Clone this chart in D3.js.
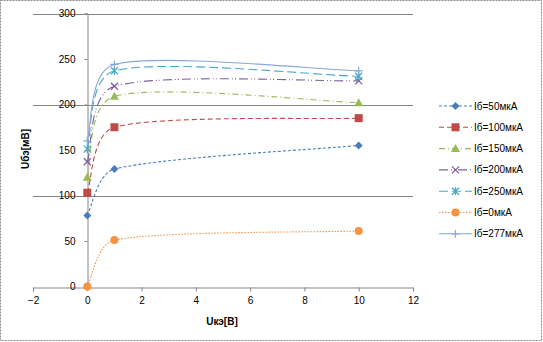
<!DOCTYPE html>
<html><head><meta charset="utf-8">
<script src="https://cdn.jsdelivr.net/npm/d3@7"></script>
<style>
body{margin:0;background:#fff;}
svg{display:block;font-family:"Liberation Sans",Arial,sans-serif;}
</style></head>
<body><svg id="c" width="543" height="342"></svg>
<script>
const xValues = [0, 1, 10];
const seriesNames = ["Iб=50мкА","Iб=100мкА","Iб=150мкА","Iб=200мкА","Iб=250мкА","Iб=0мкА","Iб=277мкА"];
const s50  = [78, 129, 155];
const s100 = [103, 175, 185];
const s150 = [120, 209, 202];
const s200 = [137, 220, 226];
const s250 = [151, 237, 231];
const s0   = [0, 51, 61];
const s277 = [160, 244, 237];
const xTicks = [-2, 0, 2, 4, 6, 8, 10, 12];
const yTicks = [0, 50, 100, 150, 200, 250, 300];
const yGrid = [100, 200, 300];

const seriesValues = [s50, s100, s150, s200, s250, s0, s277];
const colors = ["#4A7EBB","#BE4B48","#98B954","#7D60A0","#46AAC5","#F69240","#8AA6DC"];
const dashes = ["3,2","5,3","6,3,1,3","9,3,1,2,1,3","9,4","1.5,1.5",null];
const markers = ["diamond","square","triangle","x","star","circle","plus"];

const svg = d3.select("#c");
const x = d3.scaleLinear().domain([-2,12]).range([33,413]);
const y = d3.scaleLinear().domain([0,300]).range([286.5,13.5]);

// Excel-like smoothing: Catmull-Rom (1/6 chord) with control length limited by segment length
function smoothPath(pts){
  const n = pts.length;
  const tang = pts.map((p,i)=>{
    const a = pts[Math.max(0,i-1)], b = pts[Math.min(n-1,i+1)];
    return [(b[0]-a[0])/6, (b[1]-a[1])/6];
  });
  let d = `M${pts[0][0]},${pts[0][1]}`;
  for(let i=0;i<n-1;i++){
    const p0 = pts[i], p1 = pts[i+1];
    const L = Math.hypot(p1[0]-p0[0], p1[1]-p0[1]);
    const lim = L/3;
    const sc = v => { const m = Math.hypot(v[0],v[1]); return m>lim ? [v[0]*lim/m, v[1]*lim/m] : v; };
    const t0 = sc(tang[i]), t1 = sc(tang[i+1]);
    d += `C${p0[0]+t0[0]},${p0[1]+t0[1]},${p1[0]-t1[0]},${p1[1]-t1[1]},${p1[0]},${p1[1]}`;
  }
  return d;
}

// outer border
svg.append("rect").attr("x",0.5).attr("y",0.5).attr("width",541).attr("height",340)
  .attr("fill","none").attr("stroke","#8a8a8a").attr("stroke-dasharray","2,1");

// gridlines
svg.append("g").selectAll("line").data(yGrid).join("line")
  .attr("x1",x(-2)).attr("x2",x(12)).attr("y1",d=>Math.round(y(d))+0.5).attr("y2",d=>Math.round(y(d))+0.5)
  .attr("stroke","#868686").attr("stroke-width",1);

// x axis at y=0
const xAxis = d3.axisBottom(x).tickValues(xTicks).tickSize(4).tickFormat(d3.format("d"));
const gx = svg.append("g").attr("transform",`translate(0,${Math.round(y(0))+0.5})`).call(xAxis);
gx.select(".domain").attr("stroke","#868686");
gx.selectAll(".tick line").attr("stroke","#868686");
gx.selectAll("text").attr("font-size","10px").attr("fill","#000").attr("dy","0.95em")
  .attr("font-family","Liberation Sans, Arial, sans-serif");

// y axis at x=0
const yAxis = d3.axisLeft(y).tickValues(yTicks).tickSize(3).tickFormat(d3.format("d"));
const gy = svg.append("g").attr("transform",`translate(${Math.round(x(0))+0.5},0)`).call(yAxis);
gy.select(".domain").attr("stroke","#868686");
gy.selectAll(".tick line").attr("stroke","#868686");
gy.selectAll("text").attr("font-size","10px").attr("fill","#000").attr("x",-12)
  .attr("font-family","Liberation Sans, Arial, sans-serif");

// axis titles
svg.append("text").attr("x",222).attr("y",325).attr("text-anchor","middle")
  .attr("font-size","10px").attr("font-weight","bold").text("Uкэ[В]");
svg.append("text").attr("transform","translate(29,149) rotate(-90)").attr("text-anchor","middle")
  .attr("font-size","10px").attr("font-weight","bold").text("Uбэ[мВ]");

function drawMarker(g, type, cx, cy, color){
  const s = 3.5;
  if(type==="diamond"){
    g.append("path").attr("d",`M${cx},${cy-s-0.5}L${cx+s+0.5},${cy}L${cx},${cy+s+0.5}L${cx-s-0.5},${cy}Z`).attr("fill",color);
  } else if(type==="square"){
    g.append("rect").attr("x",cx-4).attr("y",cy-4).attr("width",8).attr("height",8).attr("fill",color);
  } else if(type==="triangle"){
    g.append("path").attr("d",`M${cx},${cy-4.5}L${cx+4.5},${cy+3.5}L${cx-4.5},${cy+3.5}Z`).attr("fill",color);
  } else if(type==="circle"){
    g.append("circle").attr("cx",cx).attr("cy",cy).attr("r",4).attr("fill",color);
  } else if(type==="x"){
    g.append("path").attr("d",`M${cx-s},${cy-s}L${cx+s},${cy+s}M${cx-s},${cy+s}L${cx+s},${cy-s}`).attr("stroke",color).attr("stroke-width",1.3);
  } else if(type==="star"){
    g.append("path").attr("d",`M${cx-s},${cy-s}L${cx+s},${cy+s}M${cx-s},${cy+s}L${cx+s},${cy-s}M${cx},${cy-s-0.5}L${cx},${cy+s+0.5}`).attr("stroke",color).attr("stroke-width",1.3);
  } else if(type==="plus"){
    g.append("path").attr("d",`M${cx-s-0.5},${cy}L${cx+s+0.5},${cy}M${cx},${cy-s-0.5}L${cx},${cy+s+0.5}`).attr("stroke",color).attr("stroke-width",1.2);
  }
}

const plot = svg.append("g");
seriesValues.forEach((vals,i)=>{
  const pts = xValues.map((xv,j)=>[x(xv), y(vals[j])]);
  const p = plot.append("path").attr("d",smoothPath(pts)).attr("fill","none")
    .attr("stroke",colors[i]).attr("stroke-width",1.1);
  if(dashes[i]) p.attr("stroke-dasharray",dashes[i]);
});
seriesValues.forEach((vals,i)=>{
  const g = plot.append("g");
  xValues.forEach((xv,j)=>drawMarker(g, markers[i], x(xv), y(vals[j]), colors[i]));
});

// legend
const lg = svg.append("g");
seriesNames.forEach((name,i)=>{
  const ly = 106 + i*21.3;
  const l = lg.append("line").attr("x1",439).attr("x2",472).attr("y1",ly).attr("y2",ly)
    .attr("stroke",colors[i]).attr("stroke-width",1.1);
  if(dashes[i]) l.attr("stroke-dasharray",dashes[i]);
  drawMarker(lg, markers[i], 455.5, ly, colors[i]);
  lg.append("text").attr("x",474).attr("y",ly).attr("dy","0.35em").attr("font-size","10px").text(name);
});
</script></body></html>
